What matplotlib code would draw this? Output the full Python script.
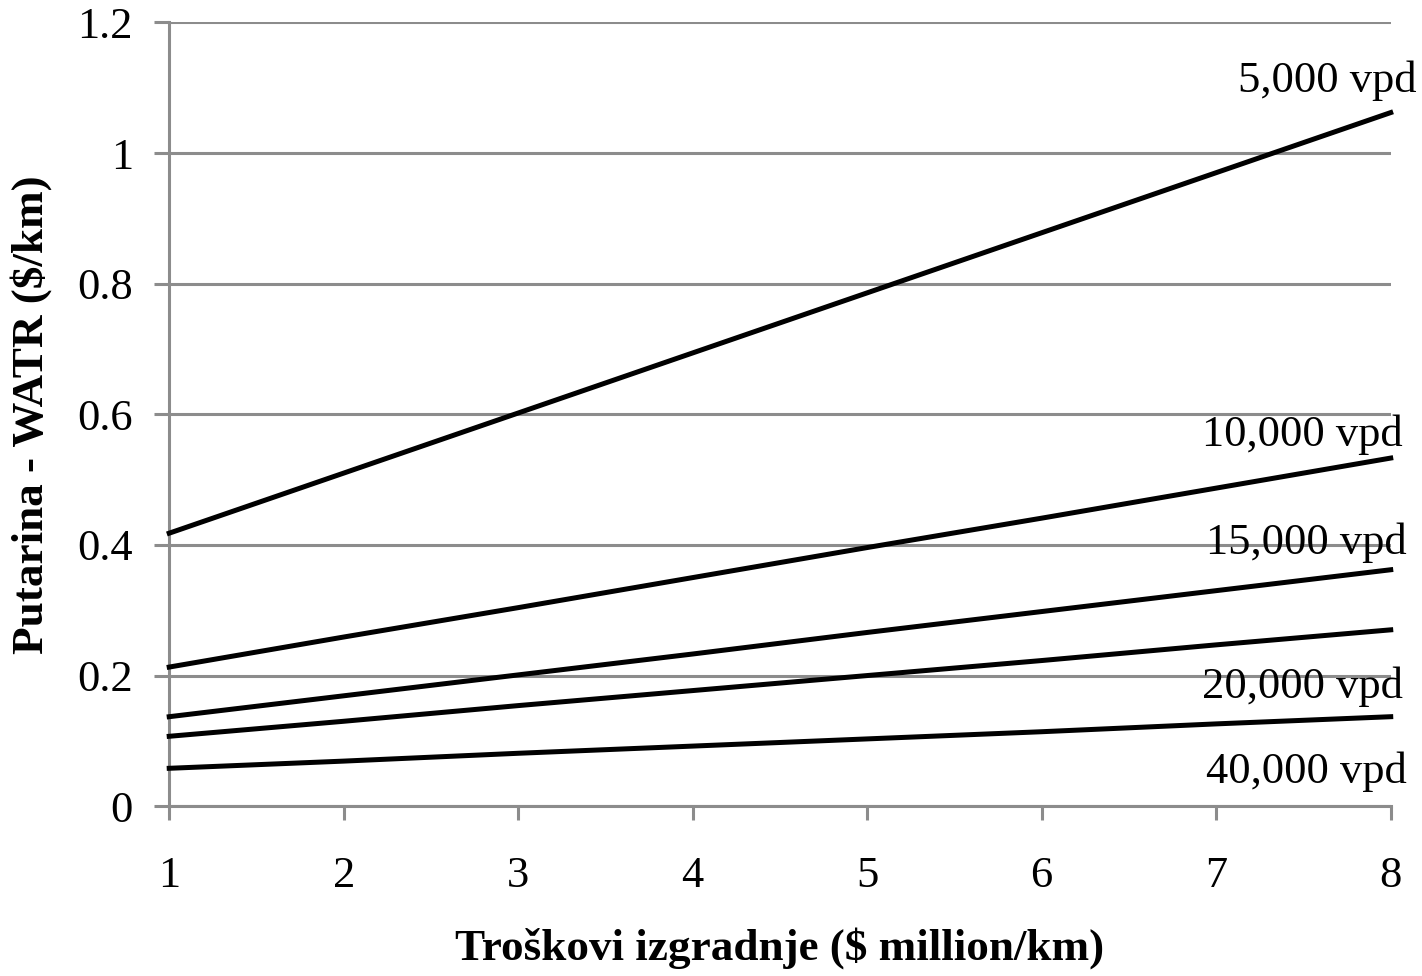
import numpy as np
import matplotlib.pyplot as plt

plt.rcParams['font.family'] = ['Liberation Serif', 'DejaVu Serif']

cost = [1, 2, 3, 4, 5, 6, 7, 8]
toll_5000 = [0.418, 0.510, 0.602, 0.694, 0.786, 0.878, 0.970, 1.062]
toll_10000 = [0.213, 0.259, 0.304, 0.350, 0.396, 0.441, 0.487, 0.533]
toll_15000 = [0.137, 0.169, 0.201, 0.233, 0.266, 0.298, 0.330, 0.362]
toll_20000 = [0.107, 0.130, 0.154, 0.177, 0.200, 0.223, 0.247, 0.270]
toll_40000 = [0.058, 0.069, 0.081, 0.092, 0.103, 0.114, 0.126, 0.137]

labels = ["5,000 vpd", "10,000 vpd", "15,000 vpd", "20,000 vpd", "40,000 vpd"]
# label anchor points (right edge, baseline) in data units
label_x = [8.15, 8.07, 8.09, 8.07, 8.09]
label_y = [1.094, 0.551, 0.386, 0.165, 0.036]

GRAY = "#8c8c8c"

fig = plt.figure(figsize=(14.22, 9.76), dpi=100)
ax = fig.add_axes([0.119, 0.174, 0.859, 0.803])

for series in [toll_5000, toll_10000, toll_15000, toll_20000, toll_40000]:
    ax.plot(cost, series, color="black", linewidth=3.6, clip_on=False, zorder=3)

for txt, x, y in zip(labels, label_x, label_y):
    ax.text(x, y, txt, ha="right", va="baseline", fontsize=32, zorder=4)

ax.set_xlim(1, 8)
ax.set_ylim(0, 1.2)
ax.set_xticks(cost)
ax.set_yticks([0, 0.2, 0.4, 0.6, 0.8, 1.0, 1.2])
ax.set_yticklabels(["0", "0.2", "0.4", "0.6", "0.8", "1", "1.2"])

ax.yaxis.grid(True, color=GRAY, linewidth=2.2)
ax.set_axisbelow(True)

for side in ["top", "right"]:
    ax.spines[side].set_visible(False)
for side in ["left", "bottom"]:
    ax.spines[side].set_color(GRAY)
    ax.spines[side].set_linewidth(2.2)

ax.tick_params(axis="x", direction="out", length=10, width=2.2, color=GRAY,
               labelsize=32, pad=26)
ax.tick_params(axis="y", direction="out", length=11, width=2.2, color=GRAY,
               labelsize=32, pad=15)

ax.set_xlabel("Troškovi izgradnje ($ million/km)", fontsize=32.5,
              fontweight="bold", labelpad=22)
ax.set_ylabel("Putarina - WATR ($/km)", fontsize=32.5, fontweight="bold",
              labelpad=18)

fig.savefig("out.png", dpi=100)
